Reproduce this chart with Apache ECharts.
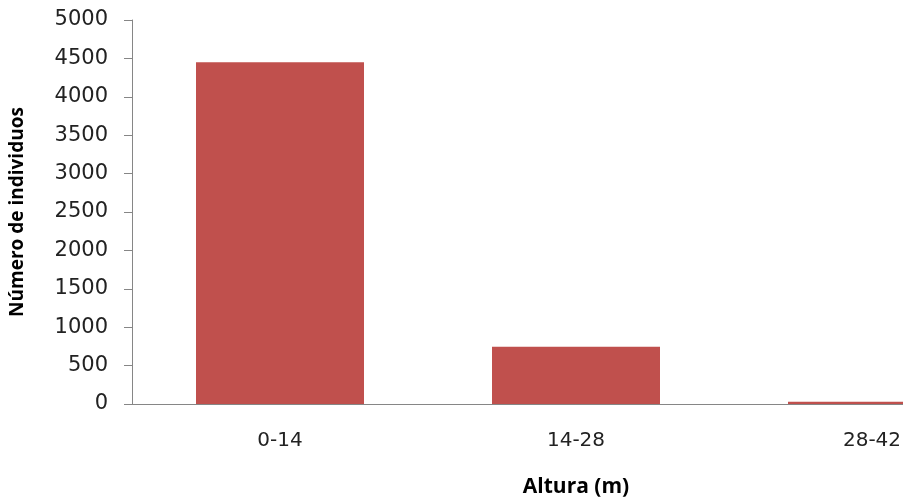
<!DOCTYPE html>
<html><head><meta charset="utf-8">
<script src="https://cdn.jsdelivr.net/npm/echarts@6/dist/echarts.min.js"></script>
<style>html,body{margin:0;padding:0;background:#fff;overflow:hidden;width:903px;height:498px}#c{width:1020px;height:498px}</style>
</head><body><div id="c"></div>
<script>
const categories = ['0-14', '14-28', '28-42'];
const values = [4450, 745, 30];
const yTicks = { min: 0, max: 5000, interval: 500 };
const xTitle = 'Altura (m)';
const yTitle = 'Número de individuos';

const chart = echarts.init(document.getElementById('c'));
chart.setOption({
  animation: false,
  grid: { left: 132, right: 0, top: 20, bottom: 94, containLabel: false, outerBoundsMode: 'none' },
  xAxis: {
    type: 'category', data: categories,
    name: xTitle, nameLocation: 'middle', nameGap: 73,
    nameTextStyle: { fontFamily: 'Open Sans', fontWeight: 'bold', fontSize: 21, color: '#000' },
    axisLine: { lineStyle: { color: '#868686', width: 1 } },
    axisTick: { show: false },
    axisLabel: { fontFamily: 'DejaVu Sans', fontSize: 20, color: '#222', margin: 27 }
  },
  yAxis: {
    type: 'value', min: yTicks.min, max: yTicks.max, interval: yTicks.interval,
    name: yTitle, nameLocation: 'middle', nameGap: 105, nameRotate: 90,
    nameTextStyle: { fontFamily: 'Open Sans', fontWeight: 'bold', fontSize: 19, color: '#000' },
    axisLine: { show: true, lineStyle: { color: '#868686', width: 1 } },
    axisTick: { show: true, length: 8, lineStyle: { color: '#868686' } },
    splitLine: { show: false },
    axisLabel: { fontFamily: 'DejaVu Sans', fontSize: 21, color: '#222', margin: 24, formatter: v => String(v) }
  },
  series: [{
    type: 'bar', data: values, barWidth: 168,
    itemStyle: { color: '#C0504D' }
  }]
});
</script></body></html>
